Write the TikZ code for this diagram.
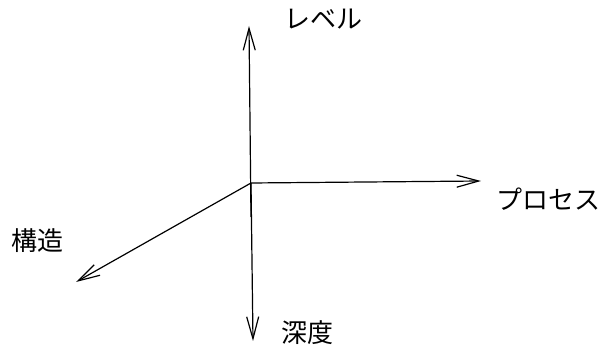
\documentclass[tikz,border=0pt]{standalone}
\usepackage{fontspec}
\newfontfamily\cjk{Noto Sans CJK JP}
\usetikzlibrary{arrows.meta}
\begin{document}
\begin{tikzpicture}[x=1pt,y=-1pt,
  axis/.style={line width=1.2pt, -{Straight Barb[length=22pt,width=12pt,line width=1.2pt]}},
  lbl/.style={font=\cjk\fontsize{26}{30}\selectfont, inner sep=0pt, anchor=center}]
\useasboundingbox (0,0) rectangle (606,347);
\coordinate (O) at (251,183);
\coordinate (Oup) at (251,217);
\coordinate (T) at (249,26);
\coordinate (D) at (253,341);
\coordinate (R) at (481,181);
\coordinate (L) at (76,282);
\draw[axis] (Oup) -- (T);
\draw[axis] (O) -- (D);
\draw[axis] (O) -- (R);
\draw[axis] (O) -- (L);
\node[lbl] (level) at (323.5,19) {レベル};
\node[lbl] (process) at (548.5,199) {プロセス};
\node[lbl] (struct) at (37.5,240.5) {構造};
\node[lbl] (depth) at (307.5,332.5) {深度};
\end{tikzpicture}
\end{document}
